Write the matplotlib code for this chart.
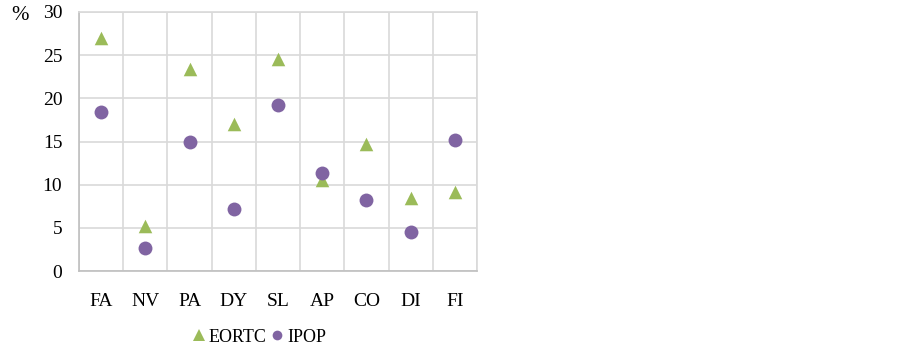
import matplotlib
matplotlib.use("Agg")
import matplotlib.pyplot as plt
from matplotlib.lines import Line2D

categories = ["FA", "NV", "PA", "DY", "SL", "AP", "CO", "DI", "FI"]
eortc = [27.0, 5.2, 23.4, 17.0, 24.6, 10.5, 14.7, 8.5, 9.1]
ipop = [18.4, 2.7, 15.0, 7.2, 19.2, 11.4, 8.2, 4.5, 15.2]
yticks = [0, 5, 10, 15, 20, 25, 30]

green = "#9BBB59"
purple = "#8064A2"
grid = "#D9D9D9"

plt.rcParams["font.family"] = ["Liberation Serif", "DejaVu Serif"]

fig = plt.figure(figsize=(9.02, 3.46), dpi=100)
ax = fig.add_axes([79 / 902, 75 / 346, 398 / 902, 259 / 346])

x = list(range(len(categories)))
ax.scatter(x, eortc, marker="^", s=95, color=green, zorder=3, linewidths=0)
ax.scatter(x, ipop, marker="o", s=100, color=purple, zorder=3, linewidths=0)

ax.set_xlim(-0.5, len(categories) - 0.5)
ax.set_ylim(0, 30)
ax.set_yticks(yticks)
ax.set_yticklabels([str(v) for v in yticks], fontsize=14)
ax.set_xticks(x)
ax.set_xticklabels(categories, fontsize=14)
ax.set_xticks([i - 0.5 for i in range(len(categories) + 1)], minor=True)
ax.tick_params(axis="both", which="both", length=0)
ax.tick_params(axis="x", pad=16)
ax.tick_params(axis="y", pad=12)
ax.grid(True, which="minor", axis="x", color=grid, linewidth=1.2)
ax.grid(True, which="major", axis="y", color=grid, linewidth=1.2)
ax.set_axisbelow(True)
for s in ax.spines.values():
    s.set_color(grid)
    s.set_linewidth(1.2)
ax.spines["bottom"].set_color("#BFBFBF")
ax.spines["left"].set_color("#BFBFBF")

fig.text(20 / 902, 1 - 15 / 346, "%", fontsize=15, ha="center", va="center")

handles = [
    Line2D([], [], marker="^", linestyle="none", color=green, markersize=8, markeredgewidth=0),
    Line2D([], [], marker="o", linestyle="none", color=purple, markersize=7, markeredgewidth=0),
]
fig.legend(handles, ["EORTC", "IPOP"], loc="center", bbox_to_anchor=(258 / 902, 1 - 337 / 346),
           ncol=2, frameon=False, fontsize=13, handletextpad=0.05, columnspacing=0.1,
           handlelength=1.0)

fig.savefig("out.png", dpi=100)
